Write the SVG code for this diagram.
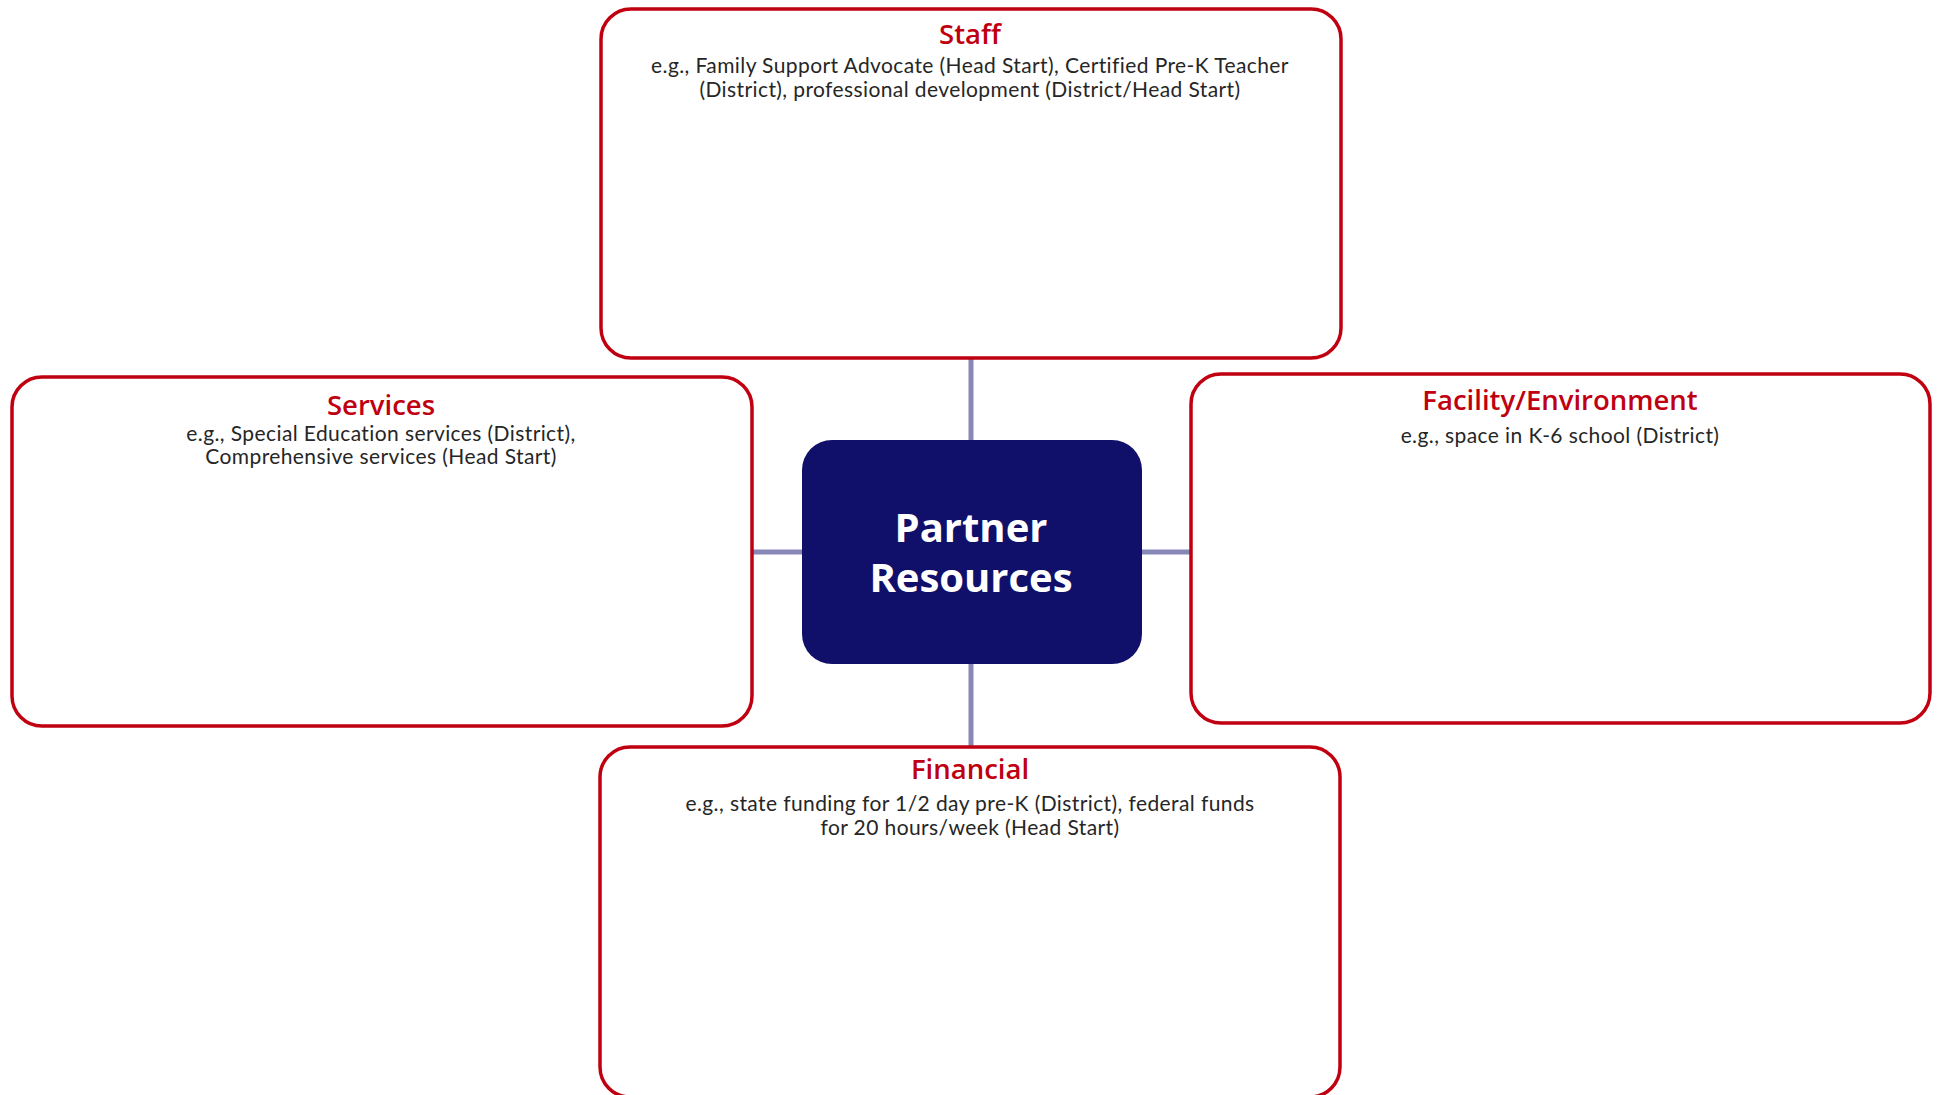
<svg xmlns="http://www.w3.org/2000/svg" width="1937" height="1095" viewBox="0 0 1937 1095">
<style>
.box{fill:#fff;stroke:#C00010;stroke-width:3.5}
.title{font-family:"Open Sans","Noto Sans",sans-serif;font-weight:600;font-size:27.5px;fill:#C00010;text-anchor:middle}
.body{font-family:Lato,"Open Sans",sans-serif;font-size:21px;letter-spacing:0.4px;fill:#262626;text-anchor:middle}
.conn{stroke:#8787B8;stroke-width:5;fill:none}
.center{fill:#10106A}
.ctext{font-family:"Open Sans","Noto Sans",sans-serif;font-weight:700;font-size:40px;fill:#fff;text-anchor:middle}
</style>
<rect width="1937" height="1095" fill="#fff"/>
<g id="connectors">
<line class="conn" x1="971" y1="358" x2="971" y2="440"/>
<line class="conn" x1="971" y1="664" x2="971" y2="747"/>
<line class="conn" x1="752" y1="552" x2="802" y2="552"/>
<line class="conn" x1="1142" y1="552" x2="1191" y2="552"/>
</g>
<g id="staff">
<rect class="box" x="601" y="9" width="740" height="349" rx="30"/>
<text class="title" x="970" y="44">Staff</text>
<text class="body" x="970" y="73">e.g., Family Support Advocate (Head Start), Certified Pre-K Teacher<tspan x="970" dy="24">(District), professional development (District/Head Start)</tspan></text>
</g>
<g id="services">
<rect class="box" x="12" y="377" width="740" height="349" rx="30"/>
<text class="title" x="381" y="415">Services</text>
<text class="body" x="381" y="441">e.g., Special Education services (District),<tspan x="381" dy="23">Comprehensive services (Head Start)</tspan></text>
</g>
<g id="facility">
<rect class="box" x="1191" y="374" width="739" height="349" rx="30"/>
<text class="title" x="1560" y="410">Facility/Environment</text>
<text class="body" x="1560" y="443">e.g., space in K-6 school (District)</text>
</g>
<g id="financial">
<rect class="box" x="600" y="747" width="740" height="350" rx="30"/>
<text class="title" x="970" y="779">Financial</text>
<text class="body" x="970" y="811">e.g., state funding for 1/2 day pre-K (District), federal funds<tspan x="970" dy="24">for 20 hours/week (Head Start)</tspan></text>
</g>
<g id="partner-resources">
<rect class="center" x="802" y="440" width="340" height="224" rx="30"/>
<text class="ctext" x="971" y="542">Partner<tspan x="971" dy="50">Resources</tspan></text>
</g>
</svg>
